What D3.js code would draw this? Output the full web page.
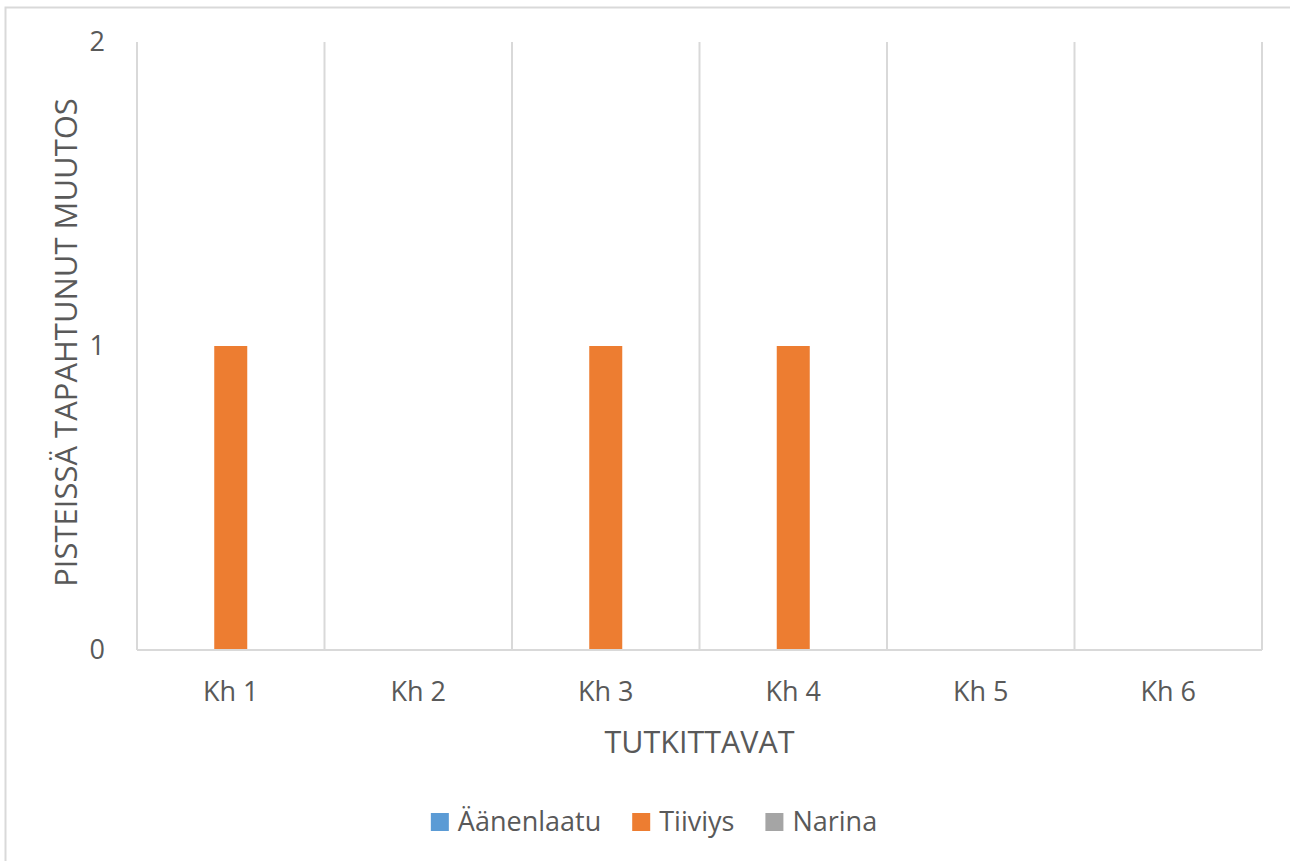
<!DOCTYPE html>
<html>
<head>
<meta charset="utf-8">
<script src="https://cdn.jsdelivr.net/npm/d3@7"></script>
<style>
  html, body { margin: 0; padding: 0; background: #fff; overflow: hidden; }
  svg { display: block; font-family: "Open Sans", "Noto Sans", sans-serif; }
</style>
</head>
<body>
<svg id="chart" width="1290" height="861"></svg>
<script>
// Categories (subjects) and the change in points per feature
const categories = ["Kh 1", "Kh 2", "Kh 3", "Kh 4", "Kh 5", "Kh 6"];
const seriesNames = ["Äänenlaatu", "Tiiviys", "Narina"];
const aanenlaatu = [0, 0, 0, 0, 0, 0];
const tiiviys = [1, 0, 1, 1, 0, 0];
const narina = [0, 0, 0, 0, 0, 0];
const yTicks = [0, 1, 2];
const colors = ["#5B9BD5", "#ED7D31", "#A5A5A5"];

const seriesValues = [aanenlaatu, tiiviys, narina];
const rows = categories.map((c, i) => ({
  cat: c,
  vals: seriesNames.map((s, j) => ({ series: s, value: seriesValues[j][i], color: colors[j] }))
}));

const svg = d3.select("#chart");
const textColor = "#595959";
const gridColor = "#D9D9D9";
const labelSize = 27;

// Outer chart frame
svg.append("rect")
  .attr("x", 5.5).attr("y", 7.5)
  .attr("width", 1300).attr("height", 870)
  .attr("fill", "#fff").attr("stroke", gridColor).attr("stroke-width", 2);

const plot = { left: 137, right: 1262, top: 42, bottom: 650 };

const x0 = d3.scaleBand().domain(categories).range([plot.left, plot.right]).paddingInner(0).paddingOuter(0);
const x1 = d3.scaleBand().domain(seriesNames).range([0, x0.bandwidth()]).paddingInner(0).paddingOuter(1.34);
const y = d3.scaleLinear().domain([0, 2]).range([plot.bottom, plot.top]);

// Vertical gridlines at category boundaries
const bounds = categories.map(c => x0(c)).concat([plot.right]);
svg.append("g").selectAll("line").data(bounds).join("line")
  .attr("x1", d => d).attr("x2", d => d)
  .attr("y1", plot.top).attr("y2", plot.bottom)
  .attr("stroke", gridColor).attr("stroke-width", 2);

// Bars
const groups = svg.append("g").selectAll("g").data(rows).join("g")
  .attr("transform", d => `translate(${x0(d.cat)},0)`);
groups.selectAll("rect").data(d => d.vals.filter(v => v.value > 0)).join("rect")
  .attr("x", d => x1(d.series))
  .attr("width", x1.bandwidth())
  .attr("y", d => y(d.value))
  .attr("height", d => y(0) - y(d.value))
  .attr("fill", d => d.color);

// Baseline
svg.append("line")
  .attr("x1", plot.left).attr("x2", plot.right)
  .attr("y1", y(0)).attr("y2", y(0))
  .attr("stroke", gridColor).attr("stroke-width", 2);

// Y axis tick labels
const yAxis = d3.axisLeft(y).tickValues(yTicks).tickFormat(d3.format("d")).tickSize(0).tickPadding(0);
const yg = svg.append("g").attr("transform", `translate(105,0)`).call(yAxis);
yg.select(".domain").remove();
yg.selectAll("text").attr("fill", textColor).attr("font-size", labelSize).attr("font-family", "Open Sans").attr("dy", "0.32em");

// X axis category labels
const xAxis = d3.axisBottom(x0).tickSize(0).tickPadding(0);
const xg = svg.append("g").attr("transform", `translate(0,${plot.bottom + 51})`).call(xAxis);
xg.select(".domain").remove();
xg.selectAll("text").attr("fill", textColor).attr("font-size", labelSize).attr("font-family", "Open Sans").attr("y", 0).attr("dy", "0");

// Axis titles
svg.append("text")
  .attr("x", (plot.left + plot.right) / 2).attr("y", 753)
  .attr("text-anchor", "middle").attr("fill", textColor)
  .attr("font-size", 30.5).text("TUTKITTAVAT");

svg.append("text")
  .attr("transform", `translate(77,${(95 + 590) / 2}) rotate(-90)`)
  .attr("text-anchor", "middle").attr("fill", textColor)
  .attr("font-size", 31).text("PISTEISSÄ TAPAHTUNUT MUUTOS");

// Legend, centred under the chart
const legend = svg.append("g");
const items = legend.selectAll("g").data(seriesNames).join("g");
items.append("rect").attr("width", 18).attr("height", 18).attr("y", -9)
  .attr("fill", (d, i) => colors[i]);
items.append("text").attr("x", 27).attr("dy", "0.35em")
  .attr("fill", textColor).attr("font-size", labelSize).text(d => d);
let offset = 0;
items.each(function () {
  const w = this.getBBox().width;
  d3.select(this).attr("transform", `translate(${offset},0)`);
  offset += w + 31;
});
const total = offset - 31;
legend.attr("transform", `translate(${654 - total / 2},822)`);
</script>
</body>
</html>
